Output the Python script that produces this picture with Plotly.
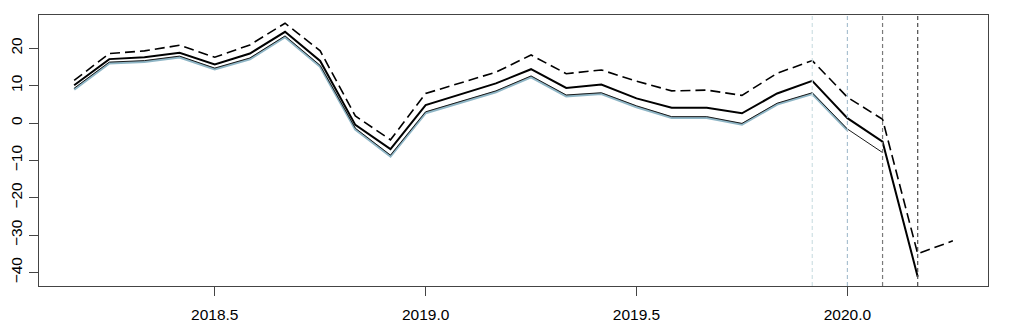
import plotly.graph_objects as go

# monthly time index (decimal years), March 2018 onwards
months = [2018 + (2 + i) / 12 for i in range(26)]

upper = [11.4, 18.6, 19.3, 20.8, 17.6, 20.9, 26.7, 19.3, 1.9, -4.5,
         7.9, 10.8, 13.6, 18.2, 13.2, 14.2, 11.2, 8.6, 8.8, 7.4,
         13.3, 16.7, 6.9, 1.0, -35.0, -31.5]
central = [10.1, 17.1, 17.6, 18.8, 15.7, 18.6, 24.4, 16.6, -0.5, -7.0,
           4.8, 7.8, 10.6, 14.4, 9.4, 10.3, 6.6, 4.1, 4.1, 2.6,
           7.9, 11.3, 1.3, -5.0, -41.1]
lower = [9.3, 16.3, 16.7, 17.9, 14.7, 17.4, 23.3, 15.4, -1.4, -8.6,
         3.0, 5.7, 8.6, 12.6, 7.5, 8.1, 4.6, 1.7, 1.7, -0.1,
         5.3, 8.1, -1.6, -7.9]
observed = [9.0, 16.0, 16.4, 17.6, 14.4, 17.1, 23.0, 15.1, -1.7, -8.9,
            2.7, 5.4, 8.3, 12.3, 7.2, 7.8, 4.3, 1.4, 1.4, -0.4,
            5.0, 7.8, -1.9]

vlines = [2019 + 11 / 12, 2020.0, 2020 + 1 / 12, 2020 + 2 / 12]
vline_colors = ["#cfe0e4", "#a9c0d0", "#7a7a7a", "#4a4a4a"]

xticks = [2018.5, 2019.0, 2019.5, 2020.0]
yticks = [-40, -30, -20, -10, 0, 10, 20]

fig = go.Figure()

for xv, col in zip(vlines, vline_colors):
    fig.add_vline(x=xv, line_width=1.2, line_dash="4px,3px", line_color=col)

fig.add_trace(go.Scatter(
    x=months[:len(observed)], y=observed, mode="lines",
    line=dict(color="#8fb6c6", width=2.5)
))
fig.add_trace(go.Scatter(
    x=months[:len(lower)], y=lower, mode="lines",
    line=dict(color="#1a1a1a", width=1)
))
fig.add_trace(go.Scatter(
    x=months[:len(central)], y=central, mode="lines",
    line=dict(color="black", width=2)
))
fig.add_trace(go.Scatter(
    x=months, y=upper, mode="lines",
    line=dict(color="black", width=1.6, dash="10px,5px")
))

axis_font = dict(family="Liberation Sans, Arial, sans-serif", size=15.5, color="black")

# page body keeps an 8px margin, so the plot margins are trimmed by that much
fig.update_layout(
    paper_bgcolor="white",
    plot_bgcolor="white",
    showlegend=False,
    margin=dict(l=31, r=21, t=7, b=39),
    xaxis=dict(
        range=[2018 + 1 / 12, 2020 + 4 / 12],
        tickvals=xticks,
        ticktext=[f"{v:.1f}" for v in xticks],
        ticks="outside", ticklen=9, tickcolor="#444",
        ticklabelstandoff=5,
        automargin=False,
        showgrid=False, zeroline=False,
        showline=True, mirror=True, linecolor="#444", linewidth=1,
        tickfont=axis_font,
    ),
    yaxis=dict(
        range=[-43.6, 28.9],
        tickvals=yticks,
        ticks="outside", ticklen=9, tickcolor="#444",
        tickangle=-90,
        ticklabelstandoff=1,
        automargin=False,
        showgrid=False, zeroline=False,
        showline=True, mirror=True, linecolor="#444", linewidth=1,
        tickfont=axis_font,
    ),
)

fig.write_html("out.html")
